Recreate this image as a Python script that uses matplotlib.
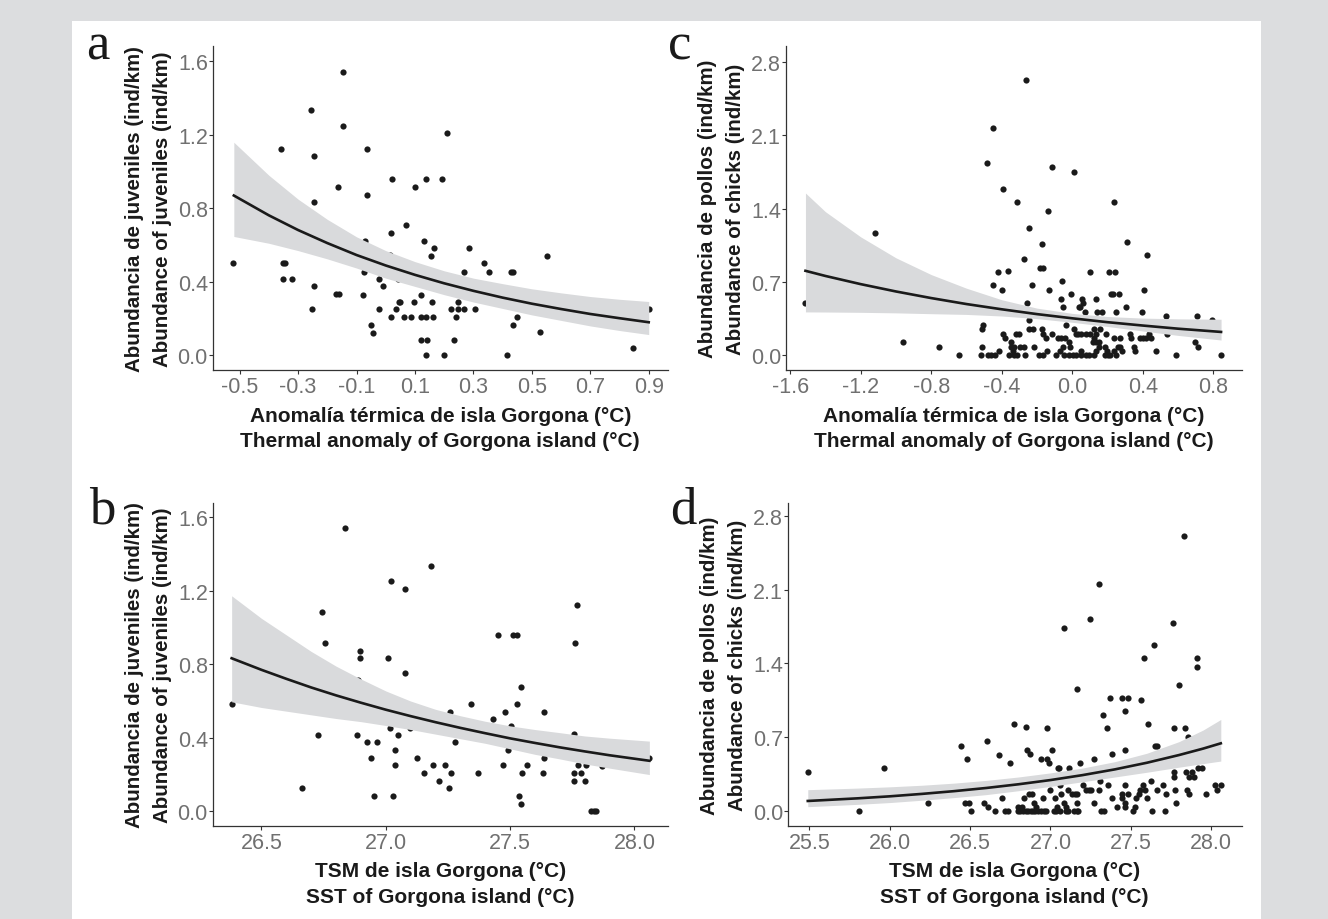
import matplotlib
matplotlib.use('Agg')
import matplotlib.pyplot as plt
from matplotlib.patches import Rectangle

plt.rcParams['axes.unicode_minus'] = False

W, H = 1328, 920

# ---- panel a: juveniles vs thermal anomaly ----
a_points = [
    (-0.523, 0.50), (-0.36, 1.125), (-0.35, 0.50), (-0.345, 0.50), (-0.35, 0.416),
    (-0.32, 0.416), (-0.257, 1.335), (-0.244, 1.084), (-0.245, 0.833), (-0.247, 0.375),
    (-0.252, 0.25), (-0.163, 0.916), (-0.148, 1.54), (-0.147, 1.25), (-0.17, 0.336),
    (-0.16, 0.333), (-0.079, 0.33), (-0.073, 0.456), (-0.07, 0.624), (-0.064, 1.125),
    (-0.064, 0.875), (-0.049, 0.165), (-0.043, 0.124), (-0.023, 0.416), (-0.023, 0.25),
    (-0.01, 0.375), (0.013, 0.544), (0.018, 0.665), (0.018, 0.207), (0.023, 0.958),
    (0.034, 0.25), (0.045, 0.29), (0.05, 0.29), (0.043, 0.415), (0.061, 0.207),
    (0.07, 0.709), (0.087, 0.207), (0.096, 0.29), (0.10, 0.916), (0.122, 0.207),
    (0.138, 0.207), (0.121, 0.33), (0.122, 0.082), (0.141, 0.082), (0.131, 0.624),
    (0.137, 0.958), (0.138, 0.0), (0.155, 0.54), (0.158, 0.29), (0.163, 0.207),
    (0.164, 0.582), (0.194, 0.958), (0.20, 0.0), (0.211, 1.209), (0.224, 0.25),
    (0.235, 0.082), (0.24, 0.207), (0.248, 0.29), (0.248, 0.25), (0.269, 0.456),
    (0.269, 0.25), (0.284, 0.582), (0.305, 0.25), (0.335, 0.50), (0.352, 0.456),
    (0.415, 0.0), (0.427, 0.456), (0.437, 0.456), (0.434, 0.165), (0.45, 0.207),
    (0.528, 0.125), (0.553, 0.54), (0.846, 0.04), (0.90, 0.25),
]
a_fx = [-0.52, -0.4, -0.3, -0.2, -0.1, 0.0, 0.1, 0.2, 0.3, 0.4, 0.5, 0.6, 0.7, 0.8, 0.9]
a_fit = [0.870, 0.762, 0.682, 0.611, 0.546, 0.489, 0.438, 0.392, 0.351, 0.314,
         0.281, 0.252, 0.225, 0.202, 0.180]
a_hi = [1.16, 0.98, 0.85, 0.74, 0.645, 0.57, 0.51, 0.46, 0.42, 0.39,
        0.362, 0.34, 0.32, 0.305, 0.293]
a_lo = [0.647, 0.61, 0.57, 0.525, 0.475, 0.42, 0.375, 0.33, 0.29, 0.255,
        0.22, 0.19, 0.16, 0.135, 0.113]

# ---- panel b: juveniles vs SST ----
b_points = [
    (26.383, 0.584), (26.661, 0.125), (26.729, 0.416), (26.744, 1.084), (26.757, 0.918),
    (26.835, 1.542), (26.883, 0.416), (26.887, 0.713), (26.897, 0.875), (26.897, 0.833),
    (26.925, 0.375), (26.942, 0.29), (26.952, 0.084), (26.966, 0.375), (27.008, 0.833),
    (27.015, 0.456), (27.02, 1.251), (27.028, 0.084), (27.036, 0.333), (27.036, 0.25),
    (27.05, 0.416), (27.076, 1.209), (27.076, 0.751), (27.096, 0.455), (27.126, 0.29),
    (27.155, 0.209), (27.181, 1.333), (27.189, 0.25), (27.214, 0.167), (27.239, 0.25),
    (27.257, 0.542), (27.255, 0.127), (27.264, 0.209), (27.279, 0.375), (27.343, 0.584),
    (27.369, 0.209), (27.43, 0.50), (27.452, 0.96), (27.47, 0.25), (27.479, 0.542),
    (27.492, 0.333), (27.505, 0.464), (27.512, 0.96), (27.527, 0.96), (27.528, 0.584),
    (27.535, 0.084), (27.542, 0.042), (27.542, 0.678), (27.548, 0.209), (27.568, 0.25),
    (27.631, 0.209), (27.638, 0.542), (27.638, 0.29), (27.756, 0.209), (27.756, 0.167),
    (27.757, 0.42), (27.762, 0.918), (27.769, 1.125), (27.775, 0.25), (27.784, 0.209),
    (27.802, 0.167), (27.804, 0.25), (27.827, 0.0), (27.836, 0.0), (27.847, 0.0),
    (27.87, 0.245), (28.058, 0.29),
]
b_fx = [26.38, 26.5, 26.6, 26.7, 26.8, 26.9, 27.0, 27.1, 27.2, 27.3, 27.4, 27.5,
        27.6, 27.7, 27.8, 27.9, 28.06]
b_fit = [0.833, 0.770, 0.721, 0.674, 0.631, 0.591, 0.553, 0.518, 0.485, 0.454,
         0.425, 0.397, 0.372, 0.348, 0.326, 0.305, 0.275]
b_hi = [1.173, 1.05, 0.96, 0.87, 0.79, 0.72, 0.655, 0.60, 0.555, 0.52,
        0.49, 0.465, 0.445, 0.428, 0.41, 0.398, 0.382]
b_lo = [0.596, 0.565, 0.545, 0.525, 0.505, 0.488, 0.467, 0.445, 0.42, 0.395,
        0.37, 0.34, 0.31, 0.285, 0.258, 0.235, 0.20]

# ---- panel c: chicks vs thermal anomaly ----
c_points = [
    (-1.513, 0.503), (-1.118, 1.166), (-0.961, 0.124), (-0.755, 0.083), (-0.64, 0.0),
    (-0.52, 0.0), (-0.475, 0.0), (-0.458, 0.0), (-0.44, 0.0), (-0.509, 0.083),
    (-0.513, 0.248), (-0.504, 0.29), (-0.481, 1.834), (-0.449, 0.669), (-0.447, 2.169),
    (-0.422, 0.793), (-0.415, 0.04), (-0.40, 0.627), (-0.394, 1.583), (-0.394, 0.207),
    (-0.38, 0.166), (-0.362, 0.806), (-0.356, 0.0), (-0.33, 0.0), (-0.315, 0.0),
    (-0.349, 0.124), (-0.349, 0.083), (-0.337, 0.04), (-0.328, 0.083), (-0.318, 0.207),
    (-0.303, 0.207), (-0.311, 1.459), (-0.296, 0.083), (-0.273, 0.083), (-0.271, 0.914),
    (-0.268, 0.0), (-0.264, 2.627), (-0.256, 0.503), (-0.248, 0.334), (-0.243, 1.21),
    (-0.246, 0.248), (-0.222, 0.248), (-0.227, 0.669), (-0.216, 0.083), (-0.19, 0.0),
    (-0.167, 0.0), (-0.182, 0.834), (-0.165, 0.834), (-0.173, 1.06), (-0.173, 0.248),
    (-0.165, 0.207), (-0.15, 0.166), (-0.144, 0.04), (-0.14, 1.376), (-0.13, 0.627),
    (-0.114, 0.207), (-0.112, 1.793), (-0.09, 0.0), (-0.08, 0.166), (-0.063, 0.166),
    (-0.069, 0.04), (-0.063, 0.54), (-0.055, 0.459), (-0.059, 0.707), (-0.05, 0.083),
    (-0.043, 0.166), (-0.038, 0.29), (-0.044, 0.0), (-0.02, 0.0), (-0.02, 0.124),
    (-0.015, 0.083), (-0.008, 0.583), (0.012, 1.752), (0.007, 0.0), (0.024, 0.0),
    (0.048, 0.0), (0.012, 0.248), (0.022, 0.207), (0.035, 0.207), (0.048, 0.207),
    (0.076, 0.207), (0.04, 0.459), (0.046, 0.459), (0.054, 0.54), (0.06, 0.503),
    (0.052, 0.04), (0.077, 0.0), (0.097, 0.0), (0.073, 0.417), (0.099, 0.793),
    (0.101, 0.207), (0.124, 0.248), (0.133, 0.207), (0.12, 0.124), (0.126, 0.166),
    (0.137, 0.124), (0.154, 0.124), (0.124, 0.0), (0.135, 0.04), (0.149, 0.083),
    (0.135, 0.54), (0.143, 0.417), (0.166, 0.417), (0.156, 0.248), (0.194, 0.207),
    (0.186, 0.083), (0.196, 0.04), (0.201, 0.0), (0.186, 0.0), (0.215, 0.0),
    (0.209, 0.793), (0.241, 0.793), (0.219, 0.583), (0.23, 0.583), (0.235, 1.462),
    (0.235, 0.166), (0.235, 0.04), (0.247, 0.0), (0.249, 0.417), (0.264, 0.583),
    (0.258, 0.083), (0.273, 0.083), (0.271, 0.166), (0.28, 0.04), (0.305, 0.459),
    (0.311, 1.083), (0.328, 0.207), (0.336, 0.166), (0.351, 0.083), (0.358, 0.04),
    (0.383, 0.166), (0.40, 0.166), (0.417, 0.166), (0.396, 0.417), (0.408, 0.627),
    (0.426, 0.959), (0.436, 0.207), (0.449, 0.166), (0.476, 0.04), (0.53, 0.376),
    (0.54, 0.207), (0.589, 0.0), (0.695, 0.124), (0.706, 0.376), (0.714, 0.083),
    (0.79, 0.334), (0.844, 0.0),
]
c_fx = [-1.513, -1.4, -1.2, -1.0, -0.8, -0.6, -0.4, -0.2, 0.0, 0.2, 0.4, 0.6, 0.844]
c_fit = [0.806, 0.757, 0.679, 0.609, 0.546, 0.489, 0.439, 0.393, 0.353, 0.316,
         0.284, 0.254, 0.223]
c_hi = [1.548, 1.37, 1.13, 0.93, 0.77, 0.64, 0.53, 0.45, 0.40, 0.37,
        0.355, 0.348, 0.344]
c_lo = [0.414, 0.413, 0.41, 0.405, 0.397, 0.39, 0.375, 0.35, 0.315, 0.275,
        0.232, 0.19, 0.146]

# ---- panel d: chicks vs SST ----
d_points = [
    (25.494, 0.372), (25.809, 0.0), (25.967, 0.413), (26.241, 0.082), (26.444, 0.621),
    (26.479, 0.498), (26.471, 0.082), (26.492, 0.082), (26.508, 0.0), (26.587, 0.082),
    (26.604, 0.662), (26.612, 0.041), (26.653, 0.0), (26.68, 0.536), (26.70, 0.123),
    (26.718, 0.0), (26.734, 0.0), (26.749, 0.454), (26.776, 0.826),
    (26.80, 0.0), (26.813, 0.0), (26.83, 0.0), (26.846, 0.0), (26.859, 0.0),
    (26.876, 0.0), (26.892, 0.0), (26.80, 0.041), (26.826, 0.041), (26.838, 0.123),
    (26.85, 0.798), (26.857, 0.583), (26.873, 0.539), (26.865, 0.164), (26.884, 0.164),
    (26.90, 0.082), (26.905, 0.0), (26.921, 0.0), (26.94, 0.0), (26.957, 0.0),
    (26.973, 0.0), (26.909, 0.041), (26.942, 0.498), (26.954, 0.123), (26.977, 0.785),
    (26.979, 0.498), (26.99, 0.454), (27.0, 0.205), (27.01, 0.583), (27.023, 0.0),
    (27.035, 0.0), (27.06, 0.0), (27.027, 0.123), (27.041, 0.041), (27.046, 0.413),
    (27.056, 0.413), (27.06, 0.246), (27.066, 0.164), (27.083, 1.735), (27.087, 0.082),
    (27.098, 0.0), (27.112, 0.0), (27.116, 0.413), (27.112, 0.205), (27.137, 0.164),
    (27.154, 0.164), (27.168, 0.164), (27.095, 0.041), (27.168, 1.158), (27.168, 0.082),
    (27.147, 0.0), (27.164, 0.0), (27.172, 0.0), (27.185, 0.454), (27.205, 0.246),
    (27.22, 0.205), (27.237, 0.205), (27.253, 0.205), (27.247, 1.82), (27.274, 0.498),
    (27.274, 0.082), (27.299, 2.151), (27.299, 0.205), (27.309, 0.29), (27.317, 0.0),
    (27.336, 0.0), (27.33, 0.909), (27.349, 0.785), (27.355, 0.246), (27.369, 1.073),
    (27.382, 0.123), (27.384, 0.539), (27.413, 0.041), (27.446, 1.073), (27.446, 0.164),
    (27.446, 0.123), (27.465, 0.953), (27.465, 0.58), (27.465, 0.246), (27.465, 0.082),
    (27.465, 0.041), (27.483, 1.073), (27.483, 0.164), (27.512, 0.0), (27.523, 0.041),
    (27.531, 0.123), (27.548, 0.164), (27.56, 0.205), (27.575, 0.246), (27.587, 0.205),
    (27.601, 0.123), (27.564, 1.05), (27.581, 1.448), (27.604, 0.826), (27.624, 0.29),
    (27.633, 0.0), (27.647, 1.571), (27.653, 0.621), (27.66, 0.621), (27.661, 0.205),
    (27.703, 0.246), (27.713, 0.0), (27.716, 0.164), (27.765, 1.779), (27.769, 0.785),
    (27.769, 0.372), (27.769, 0.328), (27.773, 0.205), (27.781, 0.082), (27.799, 1.199),
    (27.828, 2.606), (27.836, 0.785), (27.844, 0.372), (27.859, 0.328), (27.853, 0.703),
    (27.849, 0.205), (27.861, 0.164), (27.882, 0.372), (27.894, 0.328), (27.91, 1.448),
    (27.91, 1.366), (27.915, 0.413), (27.942, 0.413), (27.969, 0.164), (28.023, 0.246),
    (28.035, 0.205), (28.062, 0.246),
]
d_fx = [25.49, 25.8, 26.0, 26.2, 26.4, 26.6, 26.8, 27.0, 27.2, 27.4, 27.6, 27.8, 27.95, 28.06]
d_fit = [0.098, 0.123, 0.142, 0.165, 0.191, 0.221, 0.256, 0.296, 0.343, 0.397,
         0.460, 0.533, 0.594, 0.644]
d_hi = [0.205, 0.22, 0.232, 0.247, 0.267, 0.293, 0.325, 0.364, 0.41, 0.47,
        0.55, 0.66, 0.77, 0.87]
d_lo = [0.044, 0.066, 0.083, 0.105, 0.13, 0.158, 0.195, 0.236, 0.28, 0.325,
        0.37, 0.418, 0.452, 0.476]

# ticks
anom_ticks_a = [-0.5, -0.3, -0.1, 0.1, 0.3, 0.5, 0.7, 0.9]
anom_ticks_c = [-1.6, -1.2, -0.8, -0.4, 0.0, 0.4, 0.8]
sst_ticks_b = [26.5, 27.0, 27.5, 28.0]
sst_ticks_d = [25.5, 26.0, 26.5, 27.0, 27.5, 28.0]
juv_ticks = [0.0, 0.4, 0.8, 1.2, 1.6]
chick_ticks = [0.0, 0.7, 1.4, 2.1, 2.8]

ylab_juv = ['Abundancia de juveniles (ind/km)', 'Abundance of juveniles (ind/km)']
ylab_chick = ['Abundancia de pollos (ind/km)', 'Abundance of chicks (ind/km)']
xlab_anom = ['Anomalía térmica de isla Gorgona (°C)', 'Thermal anomaly of Gorgona island (°C)']
xlab_sst = ['TSM de isla Gorgona (°C)', 'SST of Gorgona island (°C)']

SANS = ['Liberation Sans', 'DejaVu Sans']
SERIF = ['Liberation Serif', 'DejaVu Serif']

fig = plt.figure(figsize=(W / 100, H / 100), dpi=100, facecolor='#dcdddf')
fig.add_artist(Rectangle((72 / W, 0), (1261 - 72) / W, 1 - 22 / H,
                         transform=fig.transFigure, facecolor='white',
                         edgecolor='none', zorder=-10))


def fx(x):
    return x / W


def fy(y):
    return 1 - y / H


def panel(box, pts, cx, cfit, clo, chi, xlim, ylim, xticks, yticks,
          letter, letter_xy, ylab, xlab):
    left, top, right, bottom = box
    ax = fig.add_axes([fx(left), fy(bottom), (right - left) / W, (bottom - top) / H])
    ax.set_facecolor('none')
    xs = [p[0] for p in pts]
    ys = [p[1] for p in pts]
    ax.scatter(xs, ys, s=20, color='#1a1a1a', linewidths=0, zorder=2)
    ax.fill_between(cx, clo, chi, color='#d9dadc', linewidth=0, zorder=3)
    ax.plot(cx, cfit, color='#1a1a1a', lw=1.9, zorder=4)
    ax.set_xlim(*xlim)
    ax.set_ylim(*ylim)
    ax.set_xticks(xticks)
    ax.set_yticks(yticks)
    ax.set_xticklabels(['%.1f' % t for t in xticks])
    ax.set_yticklabels(['%.1f' % t for t in yticks])
    for s in ['top', 'right']:
        ax.spines[s].set_visible(False)
    for s in ['left', 'bottom']:
        ax.spines[s].set_color('#333333')
        ax.spines[s].set_linewidth(0.9)
    ax.tick_params(direction='out', length=2.6, width=0.8, color='#333333',
                   labelcolor='#707070', labelsize=15.5)
    ax.tick_params(axis='y', pad=0.8)
    ax.tick_params(axis='x', pad=1.5)
    for lab in ax.get_xticklabels() + ax.get_yticklabels():
        lab.set_family(SANS)

    cy = (top + bottom) / 2
    fig.text(fx(left - 78), fy(cy), ylab[0], rotation=90, ha='center', va='center',
             family=SANS, fontweight='bold', fontsize=14.8, color='#1a1a1a')
    fig.text(fx(left - 50), fy(cy), ylab[1], rotation=90, ha='center', va='center',
             family=SANS, fontweight='bold', fontsize=14.8, color='#1a1a1a')
    cxp = (left + right) / 2
    fig.text(fx(cxp), fy(bottom + 45), xlab[0], ha='center', va='center',
             family=SANS, fontweight='bold', fontsize=15, color='#1a1a1a')
    fig.text(fx(cxp), fy(bottom + 71), xlab[1], ha='center', va='center',
             family=SANS, fontweight='bold', fontsize=15, color='#1a1a1a')
    fig.text(fx(letter_xy[0]), fy(letter_xy[1]), letter, ha='center', va='baseline',
             family=SERIF, fontsize=38, color='#1a1a1a')
    return ax


panel((212.5, 47, 668, 371), a_points, a_fx, a_fit, a_lo, a_hi,
      (-0.593, 0.966), (-0.08, 1.684), anom_ticks_a, juv_ticks,
      'a', (98, 59), ylab_juv, xlab_anom)
panel((212.5, 504, 668, 827), b_points, b_fx, b_fit, b_lo, b_hi,
      (26.303, 28.135), (-0.08, 1.678), sst_ticks_b, juv_ticks,
      'b', (102, 523), ylab_juv, xlab_sst)
panel((785.7, 47, 1241.7, 371), c_points, c_fx, c_fit, c_lo, c_hi,
      (-1.625, 0.961), (-0.14, 2.95), anom_ticks_c, chick_ticks,
      'c', (680, 59), ylab_chick, xlab_anom)
panel((787.7, 504, 1241.7, 827), d_points, d_fx, d_fit, d_lo, d_hi,
      (25.365, 28.19), (-0.139, 2.92), sst_ticks_d, chick_ticks,
      'd', (683, 523), ylab_chick, xlab_sst)

fig.savefig('out.png', dpi=100, facecolor=fig.get_facecolor())
